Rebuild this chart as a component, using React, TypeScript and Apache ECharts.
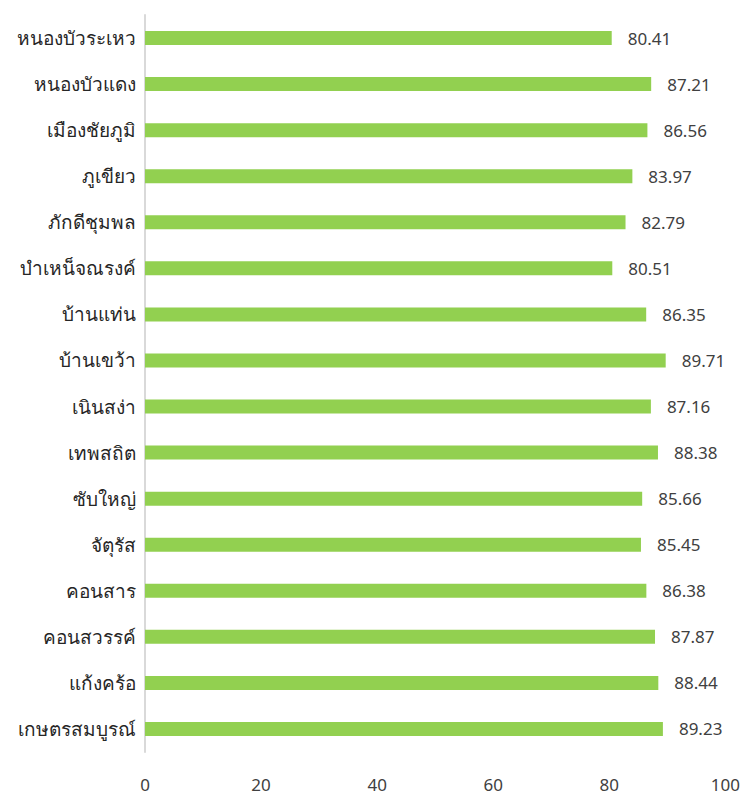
import React, { useEffect, useRef } from "react";
import * as echarts from "echarts";

const categories = [
  "เกษตรสมบูรณ์",
  "แก้งคร้อ",
  "คอนสวรรค์",
  "คอนสาร",
  "จัตุรัส",
  "ซับใหญ่",
  "เทพสถิต",
  "เนินสง่า",
  "บ้านเขว้า",
  "บ้านแท่น",
  "บำเหน็จณรงค์",
  "ภักดีชุมพล",
  "ภูเขียว",
  "เมืองชัยภูมิ",
  "หนองบัวแดง",
  "หนองบัวระเหว",
];
const values = [89.23, 88.44, 87.87, 86.38, 85.45, 85.66, 88.38, 87.16, 89.71, 86.35, 80.51, 82.79, 83.97, 86.56, 87.21, 80.41];

const FONT = "'Noto Sans', sans-serif";

export default function App() {
  const ref = useRef<HTMLDivElement>(null);
  useEffect(() => {
    if (!ref.current) return;
    const chart = echarts.init(ref.current, null, { renderer: "svg" });
    chart.setOption({
      animation: false,
      grid: { left: 145, right: 16, top: 15, bottom: 44 },
      xAxis: {
        type: "value",
        min: 0,
        max: 100,
        interval: 20,
        axisLine: { show: false },
        axisTick: { show: false },
        splitLine: { show: false },
        axisLabel: { color: "#404040", fontSize: 17, fontFamily: FONT, margin: 24 },
      },
      yAxis: {
        type: "category",
        data: categories,
        axisLine: { show: true, lineStyle: { color: "#d9d9d9", width: 2 } },
        axisTick: { show: false },
        axisLabel: { color: "#262626", fontSize: 19, fontFamily: FONT, fontWeight: 300, margin: 9 },
      },
      series: [
        {
          type: "bar",
          data: values,
          barWidth: 14,
          itemStyle: { color: "#92d050" },
          label: {
            show: true,
            position: "right",
            distance: 16,
            color: "#404040",
            fontSize: 17,
            fontFamily: FONT,
            formatter: (p: any) => p.value.toFixed(2),
          },
        },
      ],
    });
    return () => chart.dispose();
  }, []);
  return <div ref={ref} style={{ width: 743, height: 796, position: "absolute", left: 0, top: 0 }} />;
}
